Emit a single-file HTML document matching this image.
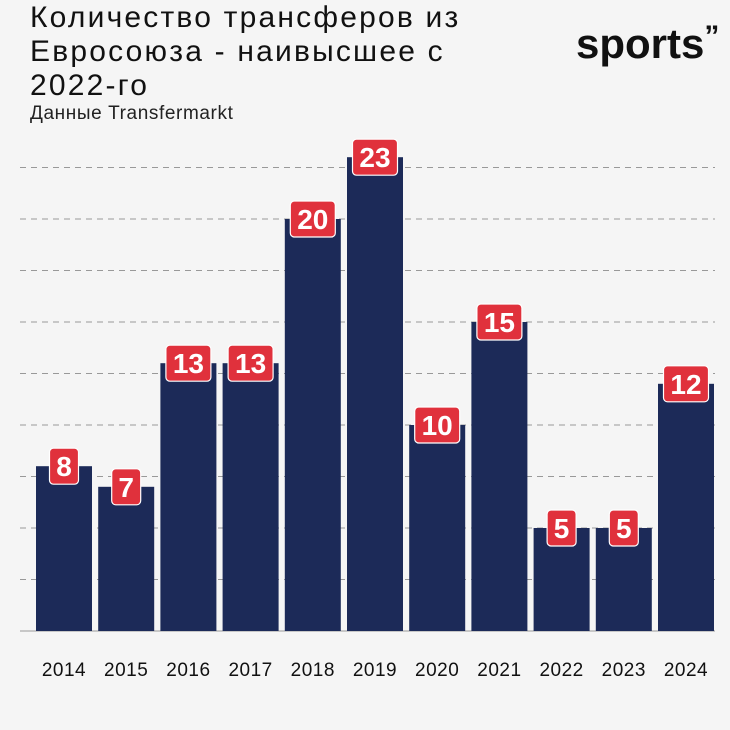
<!DOCTYPE html>
<html><head><meta charset="utf-8"><style>
body{margin:0;background:#f5f5f5;}
#c{position:relative;width:730px;height:730px;background:#f5f5f5;font-family:"Liberation Sans",sans-serif;overflow:hidden}
.t{position:absolute;left:30px;top:1px;font-size:30px;line-height:34px;color:#111;letter-spacing:2.2px}
.s{position:absolute;left:30px;top:103px;font-size:19px;color:#222;letter-spacing:0.6px}
.logo{position:absolute;left:576px;top:20px;font-size:42px;font-weight:bold;color:#111;letter-spacing:0px}
</style></head><body>
<div id="c">
<div class="t">Количество трансферов из<br>Евросоюза - наивысшее с<br>2022-го</div>
<div class="s">Данные Transfermarkt</div>
<div class="logo">sports<span style="font-size:30px;vertical-align:top">”</span></div>
<svg id="svg" width="730" height="730" style="position:absolute;left:0;top:0"></svg>
</div>
<script>
const years=["2014","2015","2016","2017","2018","2019","2020","2021","2022","2023","2024"];
const values=[8,7,13,13,20,23,10,15,5,5,12];
const gridStep=2.5;
const gridCount=9;
const NS="http://www.w3.org/2000/svg";
const svg=document.getElementById('svg');
const base=631, pxPerUnit=20.6, x0=36, pitch=62.2, bw=56;
const y=v=>base-v*pxPerUnit;
const x=i=>x0+i*pitch;
function mk(t,a){const e=document.createElementNS(NS,t);for(const k in a)e.setAttribute(k,a[k]);svg.appendChild(e);return e;}
for(let g=0;g<=gridCount;g++){
  const l=mk('line',{x1:20,x2:715,y1:y(g*gridStep),y2:y(g*gridStep),stroke:'#999','stroke-width':1,'stroke-dasharray':g===0?'':'6 5'});
  
  
}
values.forEach((v,i)=>{
  const r=mk('rect',{x:x(i),y:y(v),width:bw,height:base-y(v),fill:'#1c2a58'});
  
  
  const s=String(v), w=s.length>1?45:29, cx=x(i)+bw/2;
  const b=mk('rect',{x:cx-w/2,y:y(v)-18,width:w,height:36,rx:4,fill:'#e0313c',stroke:'#fff','stroke-width':1.2});
  
  
  const t=mk('text',{x:cx,y:y(v)+10,'text-anchor':'middle','font-size':28,'font-weight':'bold',fill:'#fff','font-family':'Liberation Sans Narrow, Liberation Sans, sans-serif'});
  t.textContent=s;
  
  
  const xl=mk('text',{x:cx,y:676,'text-anchor':'middle','font-size':19,fill:'#111','font-family':'Liberation Sans, sans-serif','letter-spacing':'0.5'});
  xl.textContent=years[i];
  
  
});
</script>
</body></html>
